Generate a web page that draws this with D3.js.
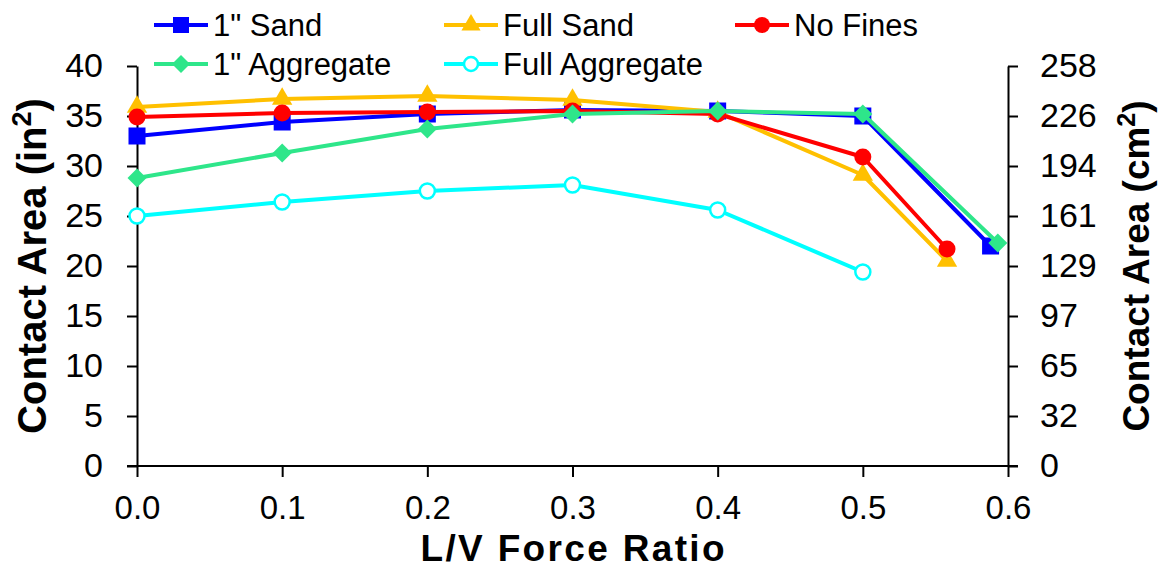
<!DOCTYPE html>
<html>
<head>
<meta charset="utf-8">
<script src="https://cdn.jsdelivr.net/npm/d3@7"></script>
<style>
  body { margin: 0; background: #fff; }
  svg { display: block; font-family: "Liberation Sans", Arial, sans-serif; }
</style>
</head>
<body>
<div id="chart"></div>
<script>
// L/V force ratios for each test series
const sandX = [0.0, 0.1, 0.2, 0.3, 0.4, 0.5, 0.588];
const sandOne = [33.0, 34.4, 35.2, 35.6, 35.5, 35.0, 22.0];

const fullSandX = [0.0, 0.1, 0.2, 0.3, 0.4, 0.5, 0.558];
const fullSand = [35.9, 36.7, 37.0, 36.6, 35.4, 29.1, 20.5];

const noFinesX = [0.0, 0.1, 0.2, 0.3, 0.4, 0.5, 0.558];
const noFines = [34.9, 35.3, 35.4, 35.5, 35.2, 30.9, 21.7];

const aggOneX = [0.0, 0.1, 0.2, 0.3, 0.4, 0.5, 0.593];
const aggOne = [28.8, 31.3, 33.7, 35.2, 35.5, 35.2, 22.3];

const fullAggX = [0.0, 0.1, 0.2, 0.3, 0.4, 0.5];
const fullAgg = [25.0, 26.4, 27.5, 28.1, 25.6, 19.4];

const xTicks = [0, 0.1, 0.2, 0.3, 0.4, 0.5, 0.6];
const yTicks = [0, 5, 10, 15, 20, 25, 30, 35, 40];
const IN2_TO_CM2 = 6.4516;

const series = [
  { name: "1\" Sand", xs: sandX, ys: sandOne, color: "#0000ff", shape: "square" },
  { name: "Full Sand", xs: fullSandX, ys: fullSand, color: "#ffc000", shape: "triangle" },
  { name: "No Fines", xs: noFinesX, ys: noFines, color: "#ff0000", shape: "circle" },
  { name: "1\" Aggregate", xs: aggOneX, ys: aggOne, color: "#2ee68a", shape: "diamond" },
  { name: "Full Aggregate", xs: fullAggX, ys: fullAgg, color: "#00ffff", shape: "open" }
];

const width = 1158, height = 569;
const margin = { top: 66, right: 150, bottom: 103, left: 137 };
const innerW = width - margin.left - margin.right;
const innerH = height - margin.top - margin.bottom;

const svg = d3.select("#chart").append("svg")
  .attr("width", width)
  .attr("height", height);

const g = svg.append("g").attr("transform", `translate(${margin.left},${margin.top})`);

const x = d3.scaleLinear().domain([0, 0.6]).range([0, innerW]);
const y = d3.scaleLinear().domain([0, 40]).range([innerH, 0]);
const yCm = d3.scaleLinear().domain([0, 40 * IN2_TO_CM2]).range([innerH, 0]);

// axes
const xAxis = g.append("g")
  .attr("transform", `translate(0,${innerH})`)
  .call(d3.axisBottom(x).tickValues(xTicks).tickFormat(d3.format(".1f")).tickSize(11).tickSizeOuter(0).tickPadding(19));

const yAxis = g.append("g")
  .call(d3.axisLeft(y).tickValues(yTicks).tickSize(10).tickSizeOuter(0).tickPadding(24));

const yAxisR = g.append("g")
  .attr("transform", `translate(${innerW},0)`)
  .call(d3.axisRight(yCm)
    .tickValues(yTicks.map(v => v * IN2_TO_CM2))
    .tickFormat(d3.format(".0f"))
    .tickSize(10).tickSizeOuter(0).tickPadding(22));

[yAxis, yAxisR].forEach(a => a.selectAll("text").style("font-size", "34px"));
xAxis.selectAll("text").style("font-size", "33px");
[xAxis, yAxis, yAxisR].forEach(a => {
  a.select(".domain").attr("stroke", "#000").attr("stroke-width", 2);
  a.selectAll(".tick line").attr("stroke", "#000").attr("stroke-width", 2);
  a.selectAll("text").attr("fill", "#000");
});
// extend the x baseline under the left and right 0 ticks
xAxis.select(".domain").attr("d", `M-10,0H${innerW + 10}`);

// marker drawing
function drawMarker(sel, shape, color, s) {
  if (shape === "square") {
    sel.append("rect").attr("x", -s / 2).attr("y", -s / 2).attr("width", s).attr("height", s).attr("fill", color);
  } else if (shape === "triangle") {
    sel.append("path").attr("d", d3.symbol(d3.symbolTriangle, s * s * 0.62)()).attr("fill", color);
  } else if (shape === "circle") {
    sel.append("circle").attr("r", s / 2).attr("fill", color);
  } else if (shape === "diamond") {
    const h = s / 2 + 1;
    sel.append("path").attr("d", `M0,${-h}L${h},0L0,${h}L${-h},0Z`).attr("fill", color);
  } else {
    sel.append("circle").attr("r", s / 2 - 1).attr("fill", "#fff").attr("stroke", color).attr("stroke-width", 2.5);
  }
}

const line = d3.line().x(d => x(d[0])).y(d => y(d[1]));

series.forEach(s => {
  const pts = s.xs.map((v, i) => [v, s.ys[i]]);
  const sg = g.append("g");
  sg.append("path")
    .datum(pts)
    .attr("fill", "none")
    .attr("stroke", s.color)
    .attr("stroke-width", 4)
    .attr("stroke-linejoin", "round")
    .attr("d", line);
  sg.selectAll(".pt")
    .data(pts)
    .enter()
    .append("g")
      .attr("class", "pt")
      .attr("transform", d => `translate(${x(d[0])},${y(d[1])})`)
      .each(function () { drawMarker(d3.select(this), s.shape, s.color, 17); });
});

// axis titles
svg.append("text")
  .attr("transform", `translate(46,${margin.top + innerH / 2}) rotate(-90)`)
  .attr("text-anchor", "middle")
  .style("font-size", "40px")
  .style("font-weight", "bold")
  .html('Contact Area (in<tspan dy="-15" font-size="27px">2</tspan><tspan dy="15">)</tspan>');

svg.append("text")
  .attr("transform", `translate(1149,${margin.top + innerH / 2}) rotate(-90)`)
  .attr("text-anchor", "middle")
  .style("font-size", "37px")
  .style("font-weight", "bold")
  .html('Contact Area (cm<tspan dy="-14" font-size="25px">2</tspan><tspan dy="14">)</tspan>');

svg.append("text")
  .attr("x", margin.left + innerW / 2)
  .attr("y", 561)
  .attr("text-anchor", "middle")
  .style("font-size", "37px")
  .style("font-weight", "bold")
  .attr("textLength", 304)
  .text("L/V Force Ratio");

// legend
const legendPos = [[154, 25], [444, 25], [735, 25], [154, 64], [444, 64]];
const legend = svg.append("g");
series.forEach((s, i) => {
  const item = legend.append("g").attr("transform", `translate(${legendPos[i][0]},${legendPos[i][1]})`);
  item.append("line").attr("x1", 0).attr("x2", 54).attr("stroke", s.color).attr("stroke-width", 4);
  const m = item.append("g").attr("transform", "translate(27,0)");
  drawMarker(m, s.shape, s.color, 16);
  item.append("text")
    .attr("x", 59)
    .attr("y", 11)
    .style("font-size", "31px")
    .text(s.name);
});
</script>
</body>
</html>
